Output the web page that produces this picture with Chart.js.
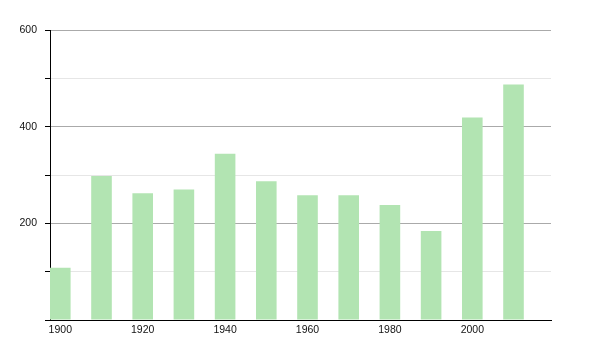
<!DOCTYPE html>
<html>
<head>
<meta charset="utf-8">
<script src="https://cdn.jsdelivr.net/npm/chart.js@4"></script>
<style>
  html, body { margin: 0; padding: 0; background: #fff; }
</style>
</head>
<body>
<canvas id="chart" width="600" height="350"></canvas>
<script>
// data
const years = [1900, 1910, 1920, 1930, 1940, 1950, 1960, 1970, 1980, 1990, 2000, 2010];
const values = [108, 298, 262, 270, 344, 287, 258, 258, 238, 184, 419, 487];
const yTickLabels = [200, 400, 600];

const points = years.map((y, i) => ({ x: y, y: values[i] }));

const ctx = document.getElementById('chart').getContext('2d');
const chart = new Chart(ctx, {
    type: 'bar',
    data: {
        datasets: [{
            data: points,
            backgroundColor: 'rgb(178, 228, 178)',
            borderWidth: 0,
            barPercentage: 0.5,
            categoryPercentage: 1
        }]
    },
    options: {
        responsive: false,
        animation: false,
        layout: { padding: { top: 30, right: 49, bottom: 0, left: 0 } },
        plugins: { legend: { display: false }, tooltip: { enabled: false } },
        scales: {
            x: {
                type: 'linear',
                offset: false,
                min: 1897.5,
                max: 2019.1,
                grid: { display: false, drawTicks: false },
                border: { color: '#000', width: 1 },
                ticks: {
                    stepSize: 20,
                    includeBounds: false,
                    padding: 4,
                    color: '#111',
                    font: { family: 'Liberation Sans', size: 10.5 },
                    callback: v => String(v)
                },
                afterFit: s => { s.height = 30; }
            },
            y: {
                min: 0,
                max: 600,
                grid: {
                    color: c => (c.tick.value % 200 === 0 ? '#aaaaaa' : '#e6e6e6'),
                    tickColor: '#000',
                    tickLength: 5
                },
                border: { color: '#000', width: 1 },
                ticks: {
                    stepSize: 100,
                    padding: 8,
                    color: '#111',
                    font: { family: 'Liberation Sans', size: 10.5 },
                    callback: v => (yTickLabels.includes(v) ? String(v) : '')
                },
                afterFit: s => { s.width = 50; }
            }
        }
    }
});
</script>
</body>
</html>
